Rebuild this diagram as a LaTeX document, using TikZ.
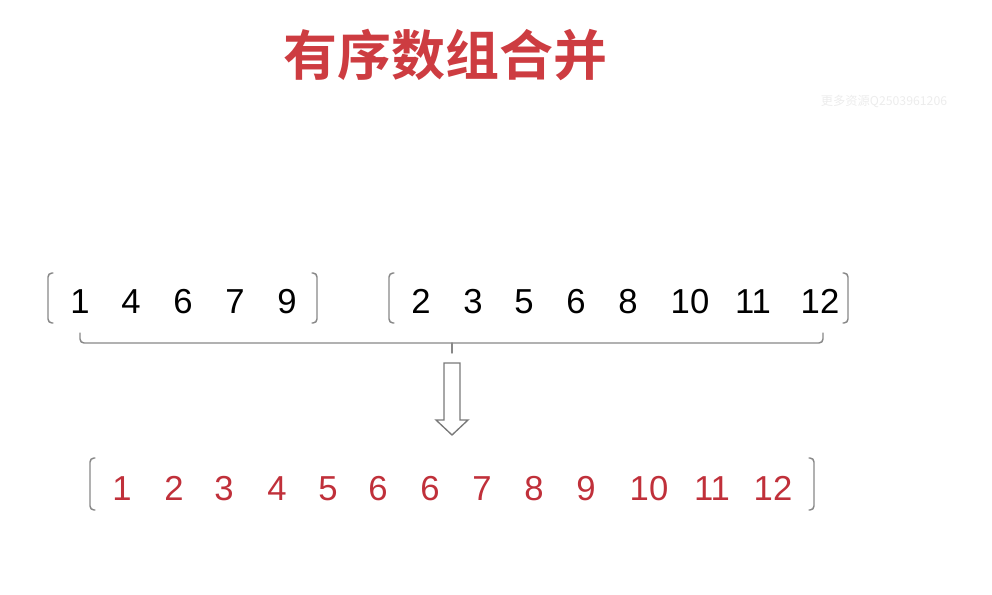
\documentclass[tikz,border=0pt]{standalone}
\usepackage{fontspec}
\setmainfont{Liberation Sans}
\newfontfamily\cjk{Noto Sans CJK SC}
\newfontfamily\cjkb{Noto Sans CJK SC Bold}
\definecolor{titred}{RGB}{205,60,65}
\definecolor{numred}{RGB}{192,48,58}
\definecolor{brgray}{RGB}{135,135,135}
\definecolor{wmgray}{RGB}{236,236,236}
\tikzset{
	num/.style={anchor=base, inner sep=0pt, font=\fontsize{26}{26}\selectfont},
	lbr/.style={draw=brgray, line width=1.1pt, rounded corners=3pt},
	hollow/.style={draw=brgray!90!black, line width=1pt, fill=white, line join=miter}
}
\begin{document}
\begin{tikzpicture}[x=0.75pt, y=-0.75pt, line cap=round, line join=round]
	\useasboundingbox (0,0) rectangle (992,594);
	\def\ya{313} \def\yb{500} % baselines
	\node (title) at (445,55) [font=\cjkb\fontsize{40.5}{40.5}\selectfont, text=titred]{有序数组合并};
	\node (wm) at (884,101) [font=\cjk\fontsize{9.2}{9.2}\selectfont, text=wmgray]{更多资源Q2503961206};
	% first array
	\foreach \x/\n in {80/1,131/4,183/6,235/7,287/9}
		\node[num] (a\n) at (\x,\ya) {\n};
	% second array
	\foreach \x/\n in {421/2,473/3,524/5,576/6,628/8,690/10,753/11,820/12}
		\node[num] (b\n) at (\x,\ya) {\n};
	% merged array
	\foreach \x/\n [count=\i] in {122/1,174/2,224/3,277/4,328/5,378/6,430/6,482/7,534/8,586/9,649/10,712/11,773/12}
		\node[num, text=numred] (c\i) at (\x,\yb) {\n};
	% brackets
	\draw[lbr] (53,273)--(48,273)--(48,323)--(53,323);
	\draw[lbr] (312,273)--(317,273)--(317,323)--(312,323);
	\draw[lbr] (394,273)--(389,273)--(389,323)--(394,323);
	\draw[lbr] (843,273)--(848,273)--(848,323)--(843,323);
	\draw[lbr] (95,458)--(90,458)--(90,510)--(95,510);
	\draw[lbr] (809,458)--(814,458)--(814,510)--(809,510);
	% brace
	\coordinate (bl) at (80,333);
	\coordinate (br) at (823,333);
	\coordinate (bm) at (452,353);
	\draw[lbr] (bl)--(80,343)--(823,343)--(br);
	\draw[draw=brgray, line width=1.1pt] (452,343)--(bm);
	% hollow arrow
	\draw[hollow] (444,363)--(460,363)--(460,420)--(468,420)--(452,435)--(436,420)--(444,420)--cycle;
\end{tikzpicture}
\end{document}
